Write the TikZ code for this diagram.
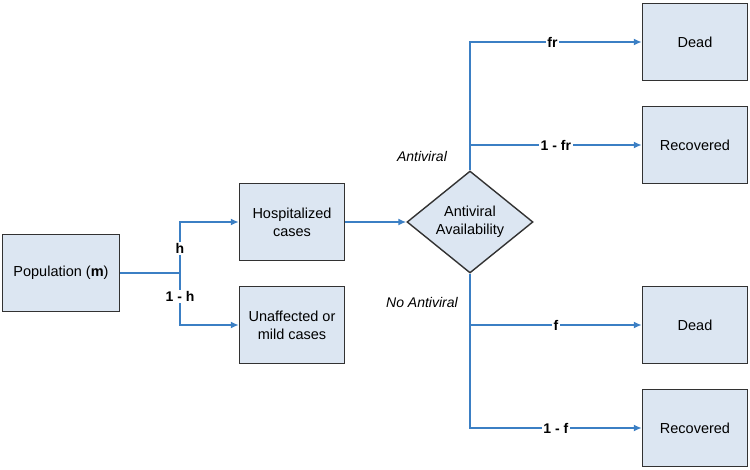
\documentclass[tikz,border=0pt]{standalone}
\usepackage{fontspec}
\setmainfont{Liberation Sans}
\usetikzlibrary{positioning,shapes.geometric,arrows.meta}
\definecolor{boxfill}{RGB}{220,230,242}
\definecolor{boxline}{RGB}{50,50,50}
\definecolor{flow}{RGB}{59,127,196}

\begin{document}
\begin{tikzpicture}[
  x=1pt,y=-1pt,
  font=\fontsize{14.5}{18}\selectfont,
  mybox/.style={draw=boxline,line width=1.4pt,fill=boxfill,minimum width=105pt,minimum height=77pt,align=center},
  mydiam/.style={draw=boxline,line width=1.4pt,fill=boxfill,diamond,minimum width=126pt,minimum height=102pt,inner sep=0pt,align=center},
  flowline/.style={draw=flow,line width=1.6pt,-{Latex[length=8pt,width=7pt]}},
  plain/.style={draw=flow,line width=1.6pt},
  prob/.style={fill=white,inner sep=1.5pt,font=\fontsize{14}{16}\selectfont\bfseries},
  branch/.style={font=\fontsize{14}{16}\selectfont\itshape},
]
\useasboundingbox (0,0) rectangle (750,470);

\node[mybox,minimum width=117pt] (pop) at (61,273) {Population (\textbf{m})};
\node[mybox] (hosp) at (292,222) {Hospitalized\\cases};
\node[mybox] (mild) at (292,325) {Unaffected or\\mild cases};
\node[mydiam] (avail) at (470,222) {Antiviral\\Availability};
\node[mybox] (deadA) at (695,42) {Dead};
\node[mybox] (recA) at (695,145) {Recovered};
\node[mybox] (deadN) at (695,325) {Dead};
\node[mybox] (recN) at (695,428) {Recovered};

\coordinate (split) at (180,273);
\coordinate (upfork) at (avail.north |- recA);
\coordinate (lowfork) at (avail.south |- deadN);

\node[branch] (withav) at (422,156) {Antiviral};
\node[branch] (noav) at (422,302) {No Antiviral};

\path[plain] (pop) -- (split);
\path[flowline] (split) |- node[prob,pos=0.24] {h} (hosp);
\path[flowline] (split) |- node[prob,pos=0.23] {1 - h} (mild);
\path[flowline] (hosp) -- (avail);
\path[flowline] (avail.north) |- node[prob,pos=0.74] {fr} (deadA);
\path[flowline] (upfork) -- node[prob] {1 - fr} (recA);
\path[flowline] (avail.south) |- node[prob,pos=0.75] {1 - f} (recN);
\path[flowline] (lowfork) -- node[prob] {f} (deadN);
\end{tikzpicture}
\end{document}
